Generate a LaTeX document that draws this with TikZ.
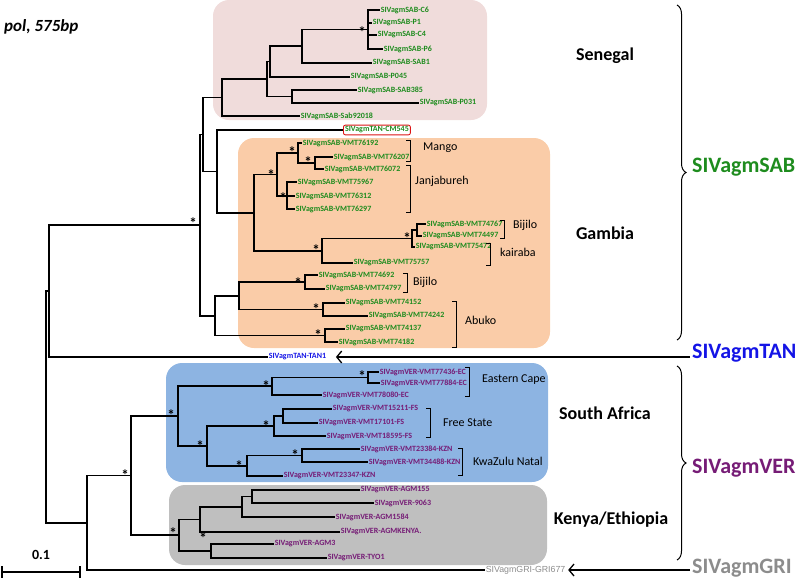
\documentclass[tikz,border=0pt]{standalone}
\usepackage{fontspec}
\setmainfont{Carlito}
\newfontfamily\arialfont{Liberation Sans}
\usepackage{xcolor}
\usepackage{tikz}
\usetikzlibrary{arrows.meta,decorations.pathreplacing}

\definecolor{sabgreen}{RGB}{30,140,30}
\definecolor{tanblue}{RGB}{20,20,230}
\definecolor{verpurple}{RGB}{118,28,118}
\definecolor{grigrey}{RGB}{140,140,140}
\definecolor{senfill}{RGB}{240,220,219}
\definecolor{gamfill}{RGB}{250,204,168}
\definecolor{safill}{RGB}{141,180,226}
\definecolor{kefill}{RGB}{191,191,191}
\definecolor{redbox}{RGB}{220,20,20}

\begin{document}
\begin{tikzpicture}[x=1pt,y=-1pt,
		br/.style={line width=1.1pt},
		leaf/.style={anchor=west, inner sep=0.6pt, font=\fontsize{8}{9}\selectfont\bfseries},
		sab/.style={leaf, text=sabgreen},
		ver/.style={leaf, text=verpurple},
		bs/.style={inner sep=0pt, font=\fontsize{15}{15}\selectfont\bfseries},
		bkt/.style={line width=0.9pt},
		sub/.style={anchor=west, inner sep=0pt, font=\fontsize{12}{14}\selectfont},
		region/.style={inner sep=0pt, font=\fontsize{18}{20}\selectfont\bfseries},
		big/.style={anchor=west, inner sep=0pt, font=\fontsize{22}{25}\selectfont\bfseries},
		arr/.style={line width=1.3pt, -{Straight Barb[length=5pt,width=12pt]}},
		brc/.style={line width=1pt, decorate, decoration={brace, amplitude=9pt}}]
		\useasboundingbox (0,0) rectangle (800,579);

		% clade boxes
		\fill[senfill, rounded corners=16pt] (213,0) rectangle (487,120);
		\fill[gamfill, rounded corners=16pt] (238,138) rectangle (550,348);
		\fill[safill, rounded corners=16pt] (166,363) rectangle (548,482);
		\fill[kefill, rounded corners=16pt] (169,485) rectangle (547,565);

		\node[anchor=west, inner sep=0pt, font=\fontsize{17}{19}\selectfont\bfseries\itshape] (ttl) at (4,27) {pol, 575bp};

		% leaves
		\node[sab] (s1) at (380,10) {SIVagmSAB-C6};
		\node[sab] (s2) at (372,23) {SIVagmSAB-P1};
		\node[sab] (s3) at (377,35) {SIVagmSAB-C4};
		\node[sab] (s4) at (383,49) {SIVagmSAB-P6};
		\node[sab] (s5) at (372,63) {SIVagmSAB-SAB1};
		\node[sab] (s6) at (350,77) {SIVagmSAB-P045};
		\node[sab] (s7) at (357,90) {SIVagmSAB-SAB385};
		\node[sab] (s8) at (419,103) {SIVagmSAB-P031};
		\node[sab] (s9) at (300,116) {SIVagmSAB-Sab92018};
		\node[sab, draw=redbox, line width=0.9pt, rounded corners=2pt, inner sep=1.6pt] (t1) at (343,130) {SIVagmTAN-CM545};

		\node[sab] (g1) at (302,143) {SIVagmSAB-VMT76192};
		\node[sab] (g2) at (333,157) {SIVagmSAB-VMT76207};
		\node[sab] (g3) at (324,169) {SIVagmSAB-VMT76072};
		\node[sab] (g4) at (297,182) {SIVagmSAB-VMT75967};
		\node[sab] (g5) at (295,196) {SIVagmSAB-VMT76312};
		\node[sab] (g6) at (295,209) {SIVagmSAB-VMT76297};
		\node[sab] (g7) at (426,224) {SIVagmSAB-VMT74767};
		\node[sab] (g8) at (422,236) {SIVagmSAB-VMT74497};
		\node[sab] (g9) at (415,247) {SIVagmSAB-VMT75472};
		\node[sab] (g10) at (353,263) {SIVagmSAB-VMT75757};
		\node[sab] (g11) at (318,275) {SIVagmSAB-VMT74692};
		\node[sab] (g12) at (325,289) {SIVagmSAB-VMT74797};
		\node[sab] (g13) at (345,303) {SIVagmSAB-VMT74152};
		\node[sab] (g14) at (368,316) {SIVagmSAB-VMT74242};
		\node[sab] (g15) at (345,329) {SIVagmSAB-VMT74137};
		\node[sab] (g16) at (338,342) {SIVagmSAB-VMT74182};
		\node[leaf, text=tanblue] (t2) at (268,357) {SIVagmTAN-TAN1};

		\node[ver] (v1) at (379,372) {SIVagmVER-VMT77436-EC};
		\node[ver] (v2) at (380,383) {SIVagmVER-VMT77884-EC};
		\node[ver] (v3) at (322,395) {SIVagmVER-VMT78080-EC};
		\node[ver] (v4) at (332,409) {SIVagmVER-VMT15211-FS};
		\node[ver] (v5) at (318,423) {SIVagmVER-VMT17101-FS};
		\node[ver] (v6) at (326,436) {SIVagmVER-VMT18595-FS};
		\node[ver] (v7) at (360,449) {SIVagmVER-VMT23384-KZN};
		\node[ver] (v8) at (368,462) {SIVagmVER-VMT34488-KZN};
		\node[ver] (v9) at (283,476) {SIVagmVER-VMT23347-KZN};
		\node[ver] (v10) at (360,490) {SIVagmVER-AGM155};
		\node[ver] (v11) at (374,503) {SIVagmVER-9063};
		\node[ver] (v12) at (335,517) {SIVagmVER-AGM1584};
		\node[ver] (v13) at (340,532) {SIVagmVER-AGMKENYA.};
		\node[ver] (v14) at (274,544) {SIVagmVER-AGM3};
		\node[ver] (v15) at (327,558) {SIVagmVER-TYO1};
		\node[leaf, font=\arialfont\fontsize{8.8}{10}\selectfont, text=grigrey] (gr) at (485,570) {SIVagmGRI-GRI677};

		% internal nodes
		\coordinate (nA) at (368,29.5);
		\coordinate (nB) at (302,46);
		\coordinate (nC) at (270,61.5);
		\coordinate (nD) at (292,96.5);
		\coordinate (nE) at (267,79);
		\coordinate (nF) at (222,97.5);
		\coordinate (nG) at (203,134.5);
		\coordinate (nH) at (217,171.5);
		\coordinate (nN) at (254,213);
		\coordinate (nO) at (277,174.5);
		\coordinate (nP) at (298,153);
		\coordinate (nQ) at (315,163);
		\coordinate (nR) at (287,196);
		\coordinate (nS) at (322,251);
		\coordinate (nT) at (412,238.5);
		\coordinate (nU) at (417,230);
		\coordinate (nK) at (239,296);
		\coordinate (nL) at (305,282);
		\coordinate (nM) at (323,309.5);
		\coordinate (nAb) at (325,335.5);
		\coordinate (nJ) at (215,316);
		\coordinate (nI) at (200,225);
		\coordinate (nV) at (49,291);
		\coordinate (nW) at (46,407);
		\coordinate (nX) at (87,523);
		\coordinate (nY) at (131,475.5);
		\coordinate (nZ) at (178,416);
		\coordinate (nEC) at (272,386);
		\coordinate (nEC1) at (368,377.5);
		\coordinate (nAA) at (207,446);
		\coordinate (nFS) at (274,426);
		\coordinate (nFS1) at (283,416);
		\coordinate (nKZ) at (247,466);
		\coordinate (nKZ1) at (302,455.5);
		\coordinate (nKE) at (179,535);
		\coordinate (nKE2) at (200,519.5);
		\coordinate (nKE3) at (242,507);
		\coordinate (nKE4) at (252,496.5);
		\coordinate (nKE5) at (211,551);

		% branches
		\draw[br] (nA) |- (s1) (nA) |- (s2) (nA) |- (s3) (nA) |- (s4);
		\draw[br] (nB) |- (nA) (nB) |- (s5);
		\draw[br] (nC) |- (nB) (nC) |- (s6);
		\draw[br] (nD) |- (s7) (nD) |- (s8);
		\draw[br] (nE) |- (nC) (nE) |- (nD);
		\draw[br] (nF) |- (nE) (nF) |- (s9);
		\draw[br] (nG) |- (nF) (nG) |- (nH);
		\draw[br] (nH) |- (t1) (nH) |- (nN);
		\draw[br] (nN) |- (nO) (nN) |- (nS);
		\draw[br] (nO) |- (nP) (nO) |- (nR);
		\draw[br] (nP) |- (g1) (nP) |- (nQ);
		\draw[br] (nQ) |- (g2) (nQ) |- (g3);
		\draw[br] (nR) |- (g4) (nR) |- (g5) (nR) |- (g6);
		\draw[br] (nS) |- (nT) (nS) |- (g10);
		\draw[br] (nT) |- (nU) (nT) |- (g9);
		\draw[br] (nU) |- (g7) (nU) |- (g8);
		\draw[br] (nL) |- (g11) (nL) |- (g12);
		\draw[br] (nM) |- (g13) (nM) |- (g14);
		\draw[br] (nAb) |- (g15) (nAb) |- (g16);
		\draw[br] (nK) |- (nL) (nK) |- (nM);
		\draw[br] (nJ) |- (nK) (nJ) |- (nAb);
		\draw[br] (nI) |- (nG) (nI) |- (nJ);
		\draw[br] (nV) |- (nI) (nV) |- (t2);
		\draw[br] (nW) |- (nV) (nW) |- (nX);
		\draw[br] (nX) |- (nY) (nX) |- (gr);
		\draw[br] (nY) |- (nZ) (nY) |- (nKE);
		\draw[br] (nZ) |- (nEC) (nZ) |- (nAA);
		\draw[br] (nEC) |- (nEC1) (nEC) |- (v3);
		\draw[br] (nEC1) |- (v1) (nEC1) |- (v2);
		\draw[br] (nAA) |- (nFS) (nAA) |- (nKZ);
		\draw[br] (nFS) |- (nFS1) (nFS) |- (v6);
		\draw[br] (nFS1) |- (v4) (nFS1) |- (v5);
		\draw[br] (nKZ) |- (nKZ1) (nKZ) |- (v9);
		\draw[br] (nKZ1) |- (v7) (nKZ1) |- (v8);
		\draw[br] (nKE) |- (nKE2) (nKE) |- (nKE5);
		\draw[br] (nKE2) |- (nKE3) (nKE2) |- (v13);
		\draw[br] (nKE3) |- (nKE4) (nKE3) |- (v12);
		\draw[br] (nKE4) |- (v10) (nKE4) |- (v11);
		\draw[br] (nKE5) |- (v14) (nKE5) |- (v15);

		% support stars
		\node[bs] (a1) at (362,32) {*};
		\node[bs] (a2) at (271,175) {*};
		\node[bs] (a3) at (292,152) {*};
		\node[bs] (a4) at (308,162) {*};
		\node[bs] (a5) at (283,198) {*};
		\node[bs] (a6) at (407,238) {*};
		\node[bs] (a7) at (316,250) {*};
		\node[bs] (a8) at (298,283) {*};
		\node[bs] (a9) at (316,309) {*};
		\node[bs] (a10) at (318,335) {*};
		\node[bs] (a11) at (193,223) {*};
		\node[bs] (a12) at (362,376) {*};
		\node[bs] (a13) at (266,386) {*};
		\node[bs] (a14) at (171,415) {*};
		\node[bs] (a15) at (200,446) {*};
		\node[bs] (a16) at (266,426) {*};
		\node[bs] (a17) at (239,466) {*};
		\node[bs] (a18) at (295,455) {*};
		\node[bs] (a19) at (125,475) {*};
		\node[bs] (a20) at (173,533) {*};
		\node[bs] (a21) at (203,538) {*};

		% sampling sites
		\draw[bkt] (406,140) -| (410,161) -- (406,161);
		\draw[bkt] (406,165) -| (410,212) -- (406,212);
		\draw[bkt] (500,220) -| (504,238) -- (500,238);
		\draw[bkt] (486,243) -| (490,265) -- (486,265);
		\draw[bkt] (403,273) -| (407,292) -- (403,292);
		\draw[bkt] (452,301) -| (456,347) -- (452,347);
		\draw[bkt] (465,367) -| (469,396) -- (465,396);
		\draw[bkt] (426,408) -| (430,437) -- (426,437);
		\draw[bkt] (458,448) -| (462,475) -- (458,475);
		\node[sub] (mango) at (423,148) {Mango};
		\node[sub] (janj) at (415,181) {Janjabureh};
		\node[sub] (bij1) at (513,225) {Bijilo};
		\node[sub] (kai) at (500,252) {kairaba};
		\node[sub] (bij2) at (413,282) {Bijilo};
		\node[sub] (abuko) at (465,320) {Abuko};
		\node[sub] (ecape) at (482,380) {Eastern Cape};
		\node[sub] (fstate) at (443,423) {Free State};
		\node[sub] (kzn) at (473,461) {KwaZulu Natal};

		\node[region] (sen) at (605,56) {Senegal};
		\node[region] (gam) at (605,233) {Gambia};
		\node[region] (saf) at (605,413) {South Africa};
		\node[region] (ken) at (611,520) {Kenya/Ethiopia};

		% lineages
		\draw[brc] (677,5) -- (677,340);
		\draw[brc] (677,366) -- (677,560);
		\node[big, text=sabgreen] (labSAB) at (692,167) {SIVagmSAB};
		\node[big, text=tanblue] (labTAN) at (692,353) {SIVagmTAN};
		\node[big, text=verpurple] (labVER) at (692,468) {SIVagmVER};
		\node[big, text=grigrey] (labGRI) at (692,568) {SIVagmGRI};
		\draw[arr, shorten <=2pt, shorten >=9pt] (labTAN.west |- t2) -- (t2.east);
		\draw[arr, shorten <=2pt, shorten >=2pt] (labGRI.west |- gr) -- (gr.east);

		% scale bar
		\draw[line width=1.2pt] (2,566) -- (2,578) (2,572) -- (80,572) (80,566) -- (80,578);
		\node[inner sep=0pt, font=\fontsize{14}{16}\selectfont\bfseries] (sc) at (41,555) {0.1};
	\end{tikzpicture}
\end{document}
